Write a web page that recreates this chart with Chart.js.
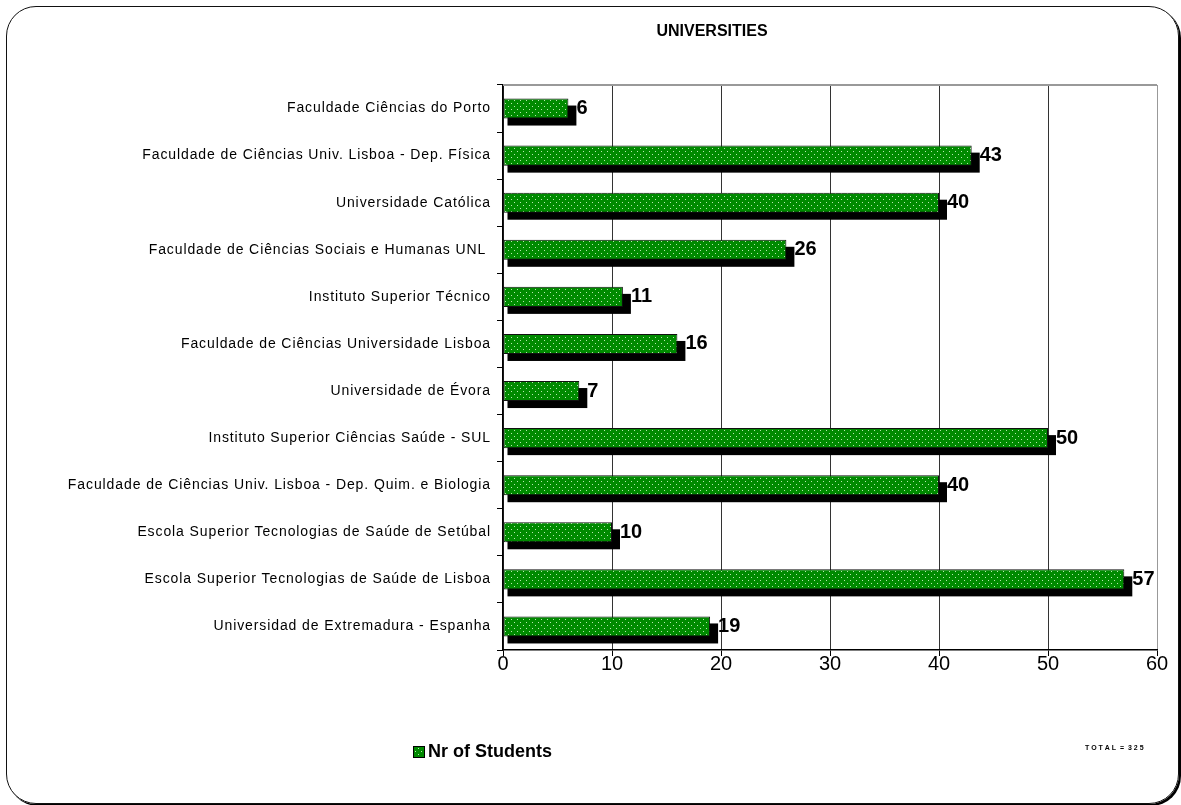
<!DOCTYPE html>
<html lang="pt">
<head>
<meta charset="utf-8"/>
<title>Universities</title>
<script src="https://cdn.jsdelivr.net/npm/chart.js@4.4.1/dist/chart.umd.min.js"></script>
<style>
  html, body { margin: 0; padding: 0; background: #fff; }
  #frame { position: absolute; left: 6px; top: 6px; width: 1171px; height: 796px;
           border: 1.5px solid #111; border-radius: 30px; box-shadow: 2px 2px 0 #000; }
  #wrap { position: absolute; left: 0; top: 0; width: 1181px; height: 805px; }
</style>
</head>
<body>
<div id="frame"></div>
<div id="wrap"><canvas id="chart" width="1181" height="805"></canvas></div>
<script>
const universities = [
  "Faculdade Ciências do Porto",
  "Faculdade de Ciências Univ. Lisboa - Dep. Física",
  "Universidade Católica",
  "Faculdade de Ciências Sociais e Humanas UNL ",
  "Instituto Superior Técnico",
  "Faculdade de Ciências Universidade Lisboa",
  "Universidade de Évora",
  "Instituto Superior Ciências Saúde - SUL",
  "Faculdade de Ciências Univ. Lisboa - Dep. Quim. e Biologia",
  "Escola Superior Tecnologias de Saúde de Setúbal",
  "Escola Superior Tecnologias de Saúde de Lisboa",
  "Universidad de Extremadura - Espanha"
];
const students = [6, 43, 40, 26, 11, 16, 7, 50, 40, 10, 57, 19];
const xTicks = [0, 10, 20, 30, 40, 50, 60];
const seriesName = "Nr of Students";
const chartTitle = "UNIVERSITIES";
const totalText = "T O T A L  =  3 2 5";

// green with light dots, like the old excel fill
function dotPattern() {
  const c = document.createElement('canvas');
  c.width = 6; c.height = 6;
  const g = c.getContext('2d');
  g.fillStyle = '#008a00';
  g.fillRect(0, 0, 6, 6);
  g.fillStyle = '#b8e8b0';
  g.fillRect(1, 1, 1, 1);
  g.fillRect(4, 4, 1, 1);
  return g.createPattern(c, 'repeat');
}

const ctx = document.getElementById('chart').getContext('2d');
const fill = dotPattern();

const extras = {
  id: 'extras',
  beforeDatasetsDraw(chart) {
    const c = chart.ctx;
    const meta = chart.getDatasetMeta(0);
    c.save();
    c.fillStyle = '#000';
    meta.data.forEach(el => {
      const p = el.getProps(['x', 'y', 'base', 'height'], true);
      c.fillRect(p.base + 4, p.y - p.height / 2 + 7, p.x - p.base + 4, p.height);
    });
    c.restore();
  },
  afterDatasetsDraw(chart) {
    const c = chart.ctx;
    const meta = chart.getDatasetMeta(0);
    const a = chart.chartArea;
    c.save();
    // top border of plot
    c.strokeStyle = '#999';
    c.lineWidth = 2;
    c.beginPath();
    c.moveTo(a.left, a.top);
    c.lineTo(a.right, a.top);
    c.stroke();
    // value labels
    c.fillStyle = '#000';
    c.font = 'bold 20px "Liberation Sans", Arial, sans-serif';
    c.textBaseline = 'middle';
    c.textAlign = 'left';
    meta.data.forEach((el, i) => {
      const p = el.getProps(['x', 'y'], true);
      c.fillText(students[i], p.x + 8, p.y);
    });
    c.restore();
    // y labels (z:1) are drawn next, spread out a bit like the original
    c.letterSpacing = '0.9px';
  },
  afterDraw(chart) {
    const c = chart.ctx;
    c.letterSpacing = '0px';
    c.save();
    c.fillStyle = '#000';
    c.textBaseline = 'middle';
    c.font = 'bold 16px "Liberation Sans", Arial, sans-serif';
    c.textAlign = 'center';
    c.fillText(chartTitle, 712, 32);
    // legend
    c.fillStyle = fill;
    c.fillRect(413, 746, 11, 11);
    c.strokeStyle = '#000';
    c.lineWidth = 1;
    c.strokeRect(413.5, 746.5, 11, 11);
    c.fillStyle = '#000';
    c.textAlign = 'left';
    c.font = 'bold 18px "Liberation Sans", Arial, sans-serif';
    c.fillText(seriesName, 428, 752);
    c.font = 'bold 7px "Liberation Sans", Arial, sans-serif';
    c.fillText(totalText, 1085, 748);
    c.restore();
  }
};

new Chart(ctx, {
  type: 'bar',
  data: {
    labels: universities,
    datasets: [{
      label: seriesName,
      data: students,
      backgroundColor: fill,
      borderColor: '#111',
      borderWidth: 1,
      borderSkipped: false,
      barPercentage: 0.85,
      categoryPercentage: 0.5
    }]
  },
  options: {
    indexAxis: 'y',
    responsive: false,
    animation: false,
    devicePixelRatio: 1,
    layout: { padding: { left: 0, right: 24, top: 85, bottom: 125 } },
    plugins: {
      legend: { display: false },
      title: { display: false },
      tooltip: { enabled: false }
    },
    scales: {
      x: {
        min: 0, max: 60,
        afterBuildTicks: s => { s.ticks = xTicks.map(v => ({ value: v })); },
        afterFit: s => { s.height = 30; },
        ticks: { color: '#000', padding: -4, font: { family: '"Liberation Sans", Arial, sans-serif', size: 20 } },
        grid: {
          color: c => c.tick && c.tick.value === 60 ? '#999' : '#333',
          lineWidth: 1,
          tickLength: 6,
          tickColor: '#000'
        },
        border: { color: '#000', width: 1.5 }
      },
      y: {
        afterFit: s => { s.width = 503; },
        ticks: { z: 1, color: '#000', padding: 6, font: { family: '"Liberation Sans", Arial, sans-serif', size: 14 } },
        grid: { drawOnChartArea: false, offset: true, tickLength: 6, tickColor: '#000' },
        border: { color: '#000', width: 1.5 }
      }
    }
  },
  plugins: [extras]
});
</script>
</body>
</html>
